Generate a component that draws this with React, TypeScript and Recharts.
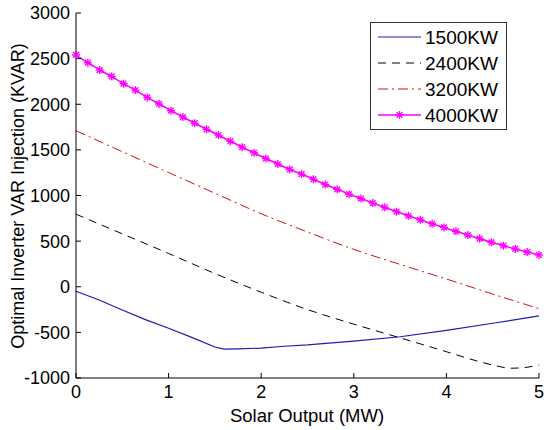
import { LineChart, Line, XAxis, YAxis, Legend, Label } from "recharts";

// x positions (MW) and injected VAR (KVAR)
const X_TICKS = [0, 1, 2, 3, 4, 5];
const Y_TICKS = [-1000, -500, 0, 500, 1000, 1500, 2000, 2500, 3000];

const X_1500 = [0, 0.25, 0.5, 0.75, 1, 1.25, 1.5, 1.6, 1.75, 2, 2.25, 2.5, 3, 3.5, 4, 4.5, 5];
const V_1500 = [-50, -145, -255, -360, -455, -555, -660, -683, -680, -672, -652, -638, -596, -548, -478, -400, -320];

const X_2400 = [0, 0.5, 1, 1.5, 2, 2.5, 3, 3.5, 4, 4.25, 4.5, 4.7, 4.85, 5];
const V_2400 = [795, 580, 365, 145, -60, -250, -410, -560, -712, -790, -858, -893, -885, -858];

const X_3200 = [0, 0.5, 1, 1.5, 2, 2.5, 3, 3.5, 4, 4.5, 5];
const V_3200 = [1710, 1480, 1252, 1025, 800, 600, 410, 245, 85, -80, -240];

const X_4000 = [
  0, 0.128, 0.256, 0.385, 0.513, 0.641, 0.769, 0.897, 1.026, 1.154,
  1.282, 1.41, 1.538, 1.667, 1.795, 1.923, 2.051, 2.179, 2.308, 2.436,
  2.564, 2.692, 2.821, 2.949, 3.077, 3.205, 3.333, 3.462, 3.59, 3.718,
  3.846, 3.974, 4.103, 4.231, 4.359, 4.487, 4.615, 4.744, 4.872, 5,
];
const V_4000 = [
  2540, 2455, 2375, 2305, 2225, 2155, 2075, 2003, 1930, 1860,
  1792, 1726, 1662, 1595, 1530, 1468, 1405, 1345, 1285, 1235,
  1178, 1120, 1068, 1015, 966, 917, 870, 822, 777, 733,
  690, 650, 607, 567, 527, 487, 450, 414, 380, 348,
];

const toRows = (xs: number[], vs: number[]) => xs.map((x, i) => ({ x, v: vs[i] }));

const FONT = "'Liberation Sans', Arial, sans-serif";
const TICK = { fill: "#000", fontSize: 18, fontFamily: FONT };

const BLUE = "#1c1cb0";
const BLACK = "#000";
const RED = "#d01010";
const MAGENTA = "#ff00ff";

const SERIES = [
  { name: "1500KW", color: BLUE, dash: undefined, star: false },
  { name: "2400KW", color: BLACK, dash: "8 6", star: false },
  { name: "3200KW", color: RED, dash: "10 4 2 4", star: false },
  { name: "4000KW", color: MAGENTA, dash: undefined, star: true },
];

function Star({ cx, cy, r = 4 }: { cx: number; cy: number; r?: number }) {
  const d = r * 0.72;
  return (
    <g stroke={MAGENTA} strokeWidth={1.4}>
      <line x1={cx - r} y1={cy} x2={cx + r} y2={cy} />
      <line x1={cx} y1={cy - r} x2={cx} y2={cy + r} />
      <line x1={cx - d} y1={cy - d} x2={cx + d} y2={cy + d} />
      <line x1={cx - d} y1={cy + d} x2={cx + d} y2={cy - d} />
    </g>
  );
}

function LegendBox() {
  return (
    <svg width={137} height={108} style={{ display: "block" }}>
      <rect x={0.5} y={0.5} width={136} height={107} fill="#fff" stroke="#333" />
      {SERIES.map((s, i) => {
        const y = 15 + i * 26;
        return (
          <g key={s.name}>
            <line
              x1={8}
              y1={y}
              x2={51}
              y2={y}
              stroke={s.color}
              strokeWidth={s.star ? 1.6 : 1}
              strokeDasharray={s.dash}
            />
            {s.star && <Star cx={29.5} cy={y} />}
            <text
              x={55}
              y={y}
              dominantBaseline="central"
              fontSize={19}
              fontFamily={FONT}
              fill="#000"
            >
              {s.name}
            </text>
          </g>
        );
      })}
    </svg>
  );
}

export default function App() {
  return (
    <div style={{ position: "absolute", left: 0, top: 0, background: "#fff" }}>
      <LineChart
        width={544}
        height={430}
        margin={{ top: 13, right: 5, bottom: 12, left: 0 }}
      >
        <XAxis
          dataKey="x"
          type="number"
          domain={[0, 5]}
          ticks={X_TICKS}
          allowDuplicatedCategory={false}
          height={40}
          tick={TICK}
          stroke="#000"
          tickSize={-5}
          tickMargin={12}
        >
          <Label
            content={() => (
              <text
                x={307}
                y={415}
                textAnchor="middle"
                dominantBaseline="central"
                fontSize={18.5}
                fontFamily={FONT}
                fill="#000"
              >
                Solar Output (MW)
              </text>
            )}
          />
        </XAxis>
        <YAxis
          type="number"
          domain={[-1000, 3000]}
          ticks={Y_TICKS}
          width={76}
          tick={TICK}
          stroke="#000"
          tickSize={-5}
          tickMargin={11}
        >
          <Label
            content={() => (
              <text
                x={18}
                y={196}
                transform="rotate(-90 18 196)"
                textAnchor="middle"
                dominantBaseline="central"
                fontSize={18}
                fontFamily={FONT}
                fill="#000"
              >
                Optimal Inverter VAR Injection (KVAR)
              </text>
            )}
          />
        </YAxis>
        <Legend
          layout="horizontal"
          align="center"
          verticalAlign="middle"
          content={() => <LegendBox />}
          wrapperStyle={{ left: 370, top: 22, width: 137, height: 108 }}
        />
        <Line
          data={toRows(X_1500, V_1500)}
          dataKey="v"
          name="1500KW"
          type="linear"
          stroke={BLUE}
          strokeWidth={1.2}
          dot={false}
          isAnimationActive={false}
        />
        <Line
          data={toRows(X_2400, V_2400)}
          dataKey="v"
          name="2400KW"
          type="monotone"
          stroke={BLACK}
          strokeWidth={1}
          strokeDasharray="8 6"
          dot={false}
          isAnimationActive={false}
        />
        <Line
          data={toRows(X_3200, V_3200)}
          dataKey="v"
          name="3200KW"
          type="monotone"
          stroke={RED}
          strokeWidth={1}
          strokeDasharray="10 4 2 4"
          dot={false}
          isAnimationActive={false}
        />
        <Line
          data={toRows(X_4000, V_4000)}
          dataKey="v"
          name="4000KW"
          type="monotone"
          stroke={MAGENTA}
          strokeWidth={1.6}
          dot={(p: any) => <Star key={p.index} cx={p.cx} cy={p.cy} />}
          isAnimationActive={false}
        />
      </LineChart>
    </div>
  );
}
